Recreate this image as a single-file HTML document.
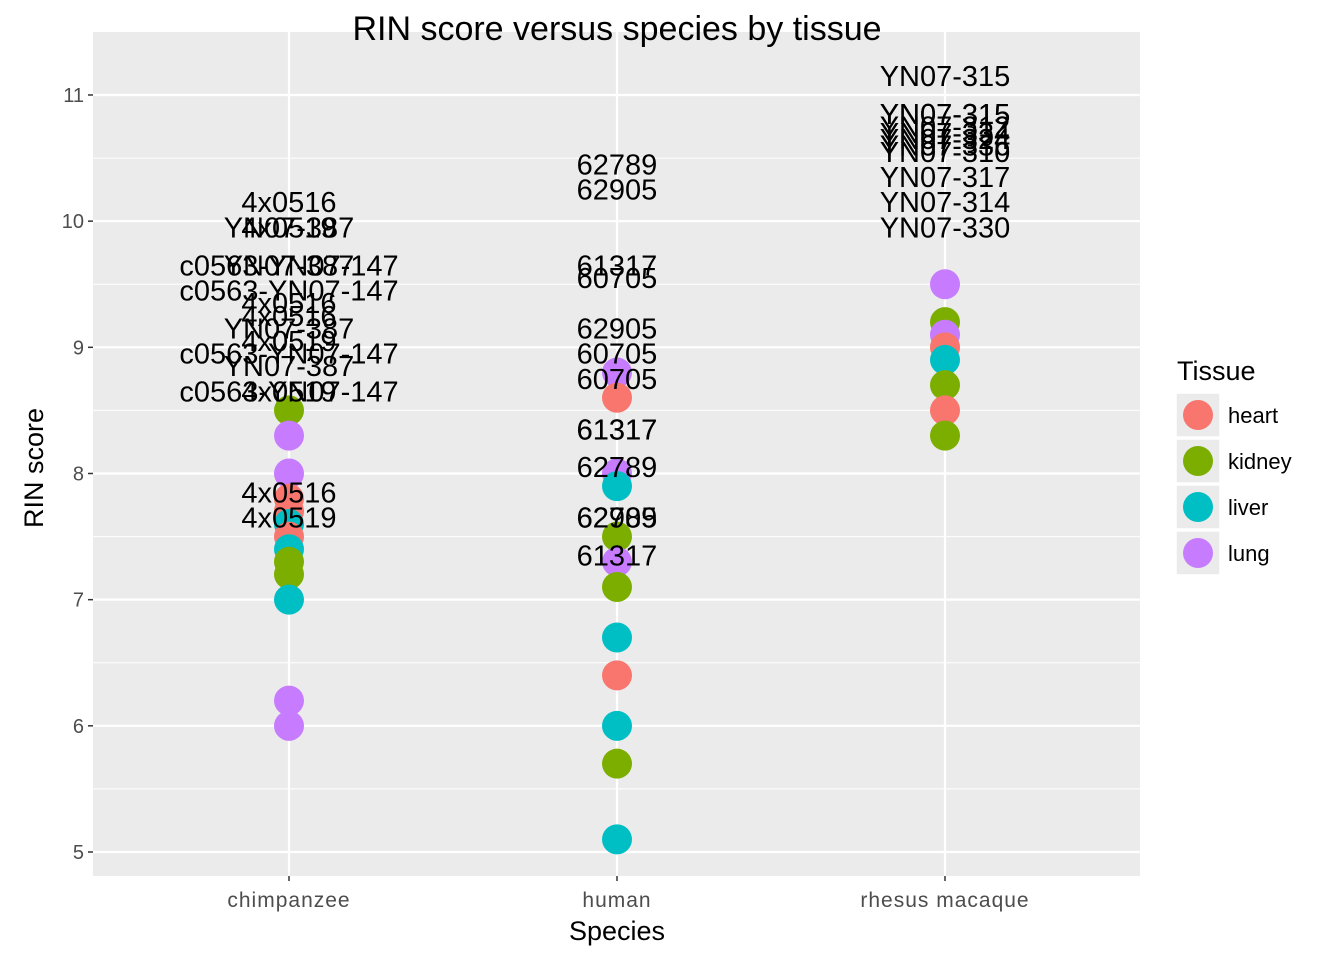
<!DOCTYPE html>
<html><head><meta charset="utf-8"><style>
body{margin:0;background:#fff;}
svg text{font-family:"Liberation Sans",sans-serif;}
</style></head><body>
<svg id="chart" width="1344" height="960"></svg>
<script>
const categories=["chimpanzee","human","rhesus macaque"];
const tissues=["heart","kidney","liver","lung"];
const colors=["#F8766D","#7CAE00","#00BFC4","#C77CFF"];
const yTicks=[5,6,7,8,9,10,11];
const ptSpecies=[0,0,0,0,0,0,0,0,0,0,0,0,0, 1,1,1,1,1,1,1,1,1,1,1,1, 2,2,2,2,2,2,2,2];
const ptTissue=[1,3,3,0,0,2,0,2,1,1,2,3,3, 3,0,3,2,1,3,1,2,0,2,1,2, 3,1,3,0,2,1,0,1];
const ptRin=[8.5,8.3,8.0,7.8,7.7,7.6,7.5,7.4,7.3,7.2,7.0,6.2,6.0, 8.8,8.6,8.0,7.9,7.5,7.3,7.1,6.7,6.4,6.0,5.7,5.1, 9.5,9.2,9.1,9.0,8.9,8.7,8.5,8.3];
const lblSpecies=[0,0,0,0,0,0,0,0,0,0,0,0,0,0,0,0, 1,1,1,1,1,1,1,1,1,1,1,1,1, 2,2,2,2,2,2,2,2,2,2,2];
const lblText=["4x0516","YN07-387","4x0519","c0563-YN07-147","YN07-387","c0563-YN07-147","4x0516","4x0516","YN07-387","4x0519","c0563-YN07-147","YN07-387","c0563-YN07-147","4x0519","4x0516","4x0519",
"62789","62905","61317","60705","62905","60705","60705","61317","61317","62789","62905","62789","61317",
"YN07-315","YN07-315","YN07-312","YN07-334","YN07-324","YN07-336","YN07-310","YN07-317","YN07-314","YN07-330","YN07-315"];
const lblY=[10.15,9.95,9.95,9.65,9.65,9.45,9.35,9.25,9.15,9.05,8.95,8.85,8.65,8.65,7.85,7.65,
10.45,10.25,9.65,9.55,9.15,8.95,8.75,8.35,8.35,8.05,7.65,7.65,7.35,
11.15,10.85,10.75,10.7,10.65,10.6,10.55,10.35,10.15,9.95,10.85];
const NS="http://www.w3.org/2000/svg";
const svg=document.getElementById("chart");
const L=93,R=1140,T=32,B=876;
const x=i=>289+i*328;
const y=v=>852-(v-5)*126.17;
function mk(tag,a,parent){const e=document.createElementNS(NS,tag);for(const k in a)e.setAttribute(k,a[k]);(parent||svg).appendChild(e);return e;}
const panel=mk("rect",{x:L,y:T,width:R-L,height:B-T,fill:"#EBEBEB"});


for(let v=4.5;v<=11.5;v+=1){const yy=y(v);if(yy>T&&yy<B){const g=mk("line",{x1:L,x2:R,y1:yy,y2:yy,stroke:"#fff","stroke-width":1});}}
yTicks.forEach(v=>{const yy=y(v);
const g=mk("line",{x1:L,x2:R,y1:yy,y2:yy,stroke:"#fff","stroke-width":2.2});
const t=mk("line",{x1:L-5,x2:L,y1:yy,y2:yy,stroke:"#333","stroke-width":1.5});
const tx=mk("text",{x:L-9,y:yy+7,"text-anchor":"end","font-size":20,fill:"#4D4D4D"});tx.textContent=v;});
categories.forEach((c,i)=>{const xx=x(i);
const g=mk("line",{x1:xx,x2:xx,y1:T,y2:B,stroke:"#fff","stroke-width":2.2});
const t=mk("line",{x1:xx,x2:xx,y1:B,y2:B+5,stroke:"#333","stroke-width":1.5});
const tx=mk("text",{x:xx,y:B+31,"text-anchor":"middle","font-size":21,"letter-spacing":"1",fill:"#4D4D4D"});tx.textContent=c;});
ptRin.forEach((v,i)=>{const c=mk("circle",{cx:x(ptSpecies[i]),cy:y(v),r:15,fill:colors[ptTissue[i]]});

});
lblText.forEach((s,i)=>{const t=mk("text",{x:x(lblSpecies[i]),y:y(lblY[i])+10,"text-anchor":"middle","font-size":29,fill:"#000"});t.textContent=s;

});
const title=mk("text",{x:617,y:40,"text-anchor":"middle","font-size":34,fill:"#000"});title.textContent="RIN score versus species by tissue";

const xt=mk("text",{x:617,y:940,"text-anchor":"middle","font-size":27,fill:"#000"});xt.textContent="Species";

const yt=mk("text",{x:0,y:0,"text-anchor":"middle","font-size":27,fill:"#000",transform:"translate(43,468) rotate(-90)"});yt.textContent="RIN score";

const lt=mk("text",{x:1177,y:380,"font-size":27,fill:"#000"});lt.textContent="Tissue";

tissues.forEach((s,i)=>{const cy=415+i*46;
const g=mk("g",{});
mk("rect",{x:1176,y:cy-22,width:44,height:44,fill:"#EBEBEB",stroke:"#fff","stroke-width":1.5},g);
mk("circle",{cx:1198,cy:cy,r:15,fill:colors[i]},g);
const t=mk("text",{x:1228,y:cy+8,"font-size":22,fill:"#000"},g);t.textContent=s;});
</script>
</body></html>
